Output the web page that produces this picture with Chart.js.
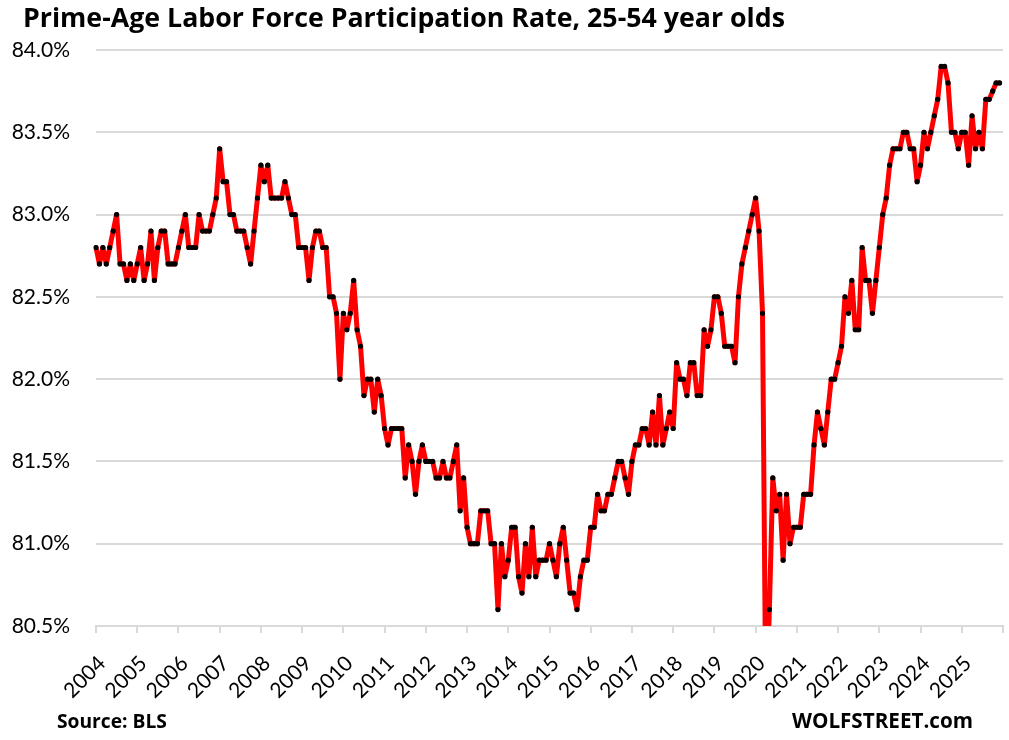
<!DOCTYPE html>
<html><head><meta charset="utf-8">
<script src="https://cdn.jsdelivr.net/npm/chart.js@4.4.0/dist/chart.umd.min.js"></script>
<style>html,body{margin:0;padding:0;background:#fff}#wrap{position:relative;width:1009px;height:740px}</style>
</head><body><div id="wrap"><canvas id="c" width="1009" height="740"></canvas></div>
<script>
// ---- data ----
const years = ['2004','2005','2006','2007','2008','2009','2010','2011','2012','2013','2014',
               '2015','2016','2017','2018','2019','2020','2021','2022','2023','2024','2025'];
const r2004 = [82.8,82.7,82.8,82.7,82.8,82.9,83.0,82.7,82.7,82.6,82.7,82.6];
const r2005 = [82.7,82.8,82.6,82.7,82.9,82.6,82.8,82.9,82.9,82.7,82.7,82.7];
const r2006 = [82.8,82.9,83.0,82.8,82.8,82.8,83.0,82.9,82.9,82.9,83.0,83.1];
const r2007 = [83.4,83.2,83.2,83.0,83.0,82.9,82.9,82.9,82.8,82.7,82.9,83.1];
const r2008 = [83.3,83.2,83.3,83.1,83.1,83.1,83.1,83.2,83.1,83.0,83.0,82.8];
const r2009 = [82.8,82.8,82.6,82.8,82.9,82.9,82.8,82.8,82.5,82.5,82.4,82.0];
const r2010 = [82.4,82.3,82.4,82.6,82.3,82.2,81.9,82.0,82.0,81.8,82.0,81.9];
const r2011 = [81.7,81.6,81.7,81.7,81.7,81.7,81.4,81.6,81.5,81.3,81.5,81.6];
const r2012 = [81.5,81.5,81.5,81.4,81.4,81.5,81.4,81.4,81.5,81.6,81.2,81.4];
const r2013 = [81.1,81.0,81.0,81.0,81.2,81.2,81.2,81.0,81.0,80.6,81.0,80.8];
const r2014 = [80.9,81.1,81.1,80.8,80.7,81.0,80.8,81.1,80.8,80.9,80.9,80.9];
const r2015 = [81.0,80.9,80.8,81.0,81.1,80.9,80.7,80.7,80.6,80.8,80.9,80.9];
const r2016 = [81.1,81.1,81.3,81.2,81.2,81.3,81.3,81.4,81.5,81.5,81.4,81.3];
const r2017 = [81.5,81.6,81.6,81.7,81.7,81.6,81.8,81.6,81.9,81.6,81.7,81.8];
const r2018 = [81.7,82.1,82.0,82.0,81.9,82.1,82.1,81.9,81.9,82.3,82.2,82.3];
const r2019 = [82.5,82.5,82.4,82.2,82.2,82.2,82.1,82.5,82.7,82.8,82.9,83.0];
const r2020 = [83.1,82.9,82.4,79.9,80.6,81.4,81.2,81.3,80.9,81.3,81.0,81.1];
const r2021 = [81.1,81.1,81.3,81.3,81.3,81.6,81.8,81.7,81.6,81.8,82.0,82.0];
const r2022 = [82.1,82.2,82.5,82.4,82.6,82.3,82.3,82.8,82.6,82.6,82.4,82.6];
const r2023 = [82.8,83.0,83.1,83.3,83.4,83.4,83.4,83.5,83.5,83.4,83.4,83.2];
const r2024 = [83.3,83.5,83.4,83.5,83.6,83.7,83.9,83.9,83.8,83.5,83.5,83.4];
const r2025 = [83.5,83.5,83.3,83.6,83.4,83.5,83.4,83.7,83.7,83.75,83.8,83.8];
const yTicks = [80.5,81.0,81.5,82.0,82.5,83.0,83.5,84.0];

const titleText = 'Prime-Age Labor Force Participation Rate, 25-54 year olds';
const sourceText = 'Source: BLS';
const brandText = 'WOLFSTREET.com';

// ---- build ----
const yearly = [r2004,r2005,r2006,r2007,r2008,r2009,r2010,r2011,r2012,r2013,r2014,
                r2015,r2016,r2017,r2018,r2019,r2020,r2021,r2022,r2023,r2024,r2025];
const labels = [];
const values = [];
years.forEach((y, yi) => {
  yearly[yi].forEach((v, m) => { labels.push(y + '-' + String(m + 1).padStart(2, '0')); values.push(v); });
});
labels.push('2026-01'); values.push(null);
const nMonths = values.length - 1;

const FONT = 'Lato, "Open Sans", "DejaVu Sans", sans-serif';
const BOLDFONT = '"Open Sans", Lato, "DejaVu Sans", sans-serif';

function fitText(ctx, text, family, targetW, x, y) {
  ctx.font = 'bold 100px ' + family;
  const w = ctx.measureText(text).width;
  const fs = 100 * targetW / w;
  ctx.font = 'bold ' + fs.toFixed(2) + 'px ' + family;
  ctx.fillText(text, x, y);
}

const textPlugin = {
  id: 'texts',
  afterDraw(chart) {
    const ctx = chart.ctx;
    ctx.save();
    ctx.fillStyle = '#000';
    ctx.textBaseline = 'alphabetic';
    ctx.textAlign = 'left';
    fitText(ctx, titleText, BOLDFONT, 762, 23, 26.5);
    fitText(ctx, sourceText, BOLDFONT, 110, 57, 728);
    fitText(ctx, brandText, BOLDFONT, 181, 792, 728);
    ctx.restore();
  }
};

new Chart(document.getElementById('c'), {
  type: 'line',
  data: {
    labels: labels,
    datasets: [{
      data: values,
      borderColor: '#ff0000',
      borderWidth: 5,
      borderJoinStyle: 'round',
      borderCapStyle: 'round',
      pointRadius: 2.6,
      pointHoverRadius: 2.6,
      pointBackgroundColor: '#000',
      pointBorderWidth: 0,
      tension: 0
    }]
  },
  options: {
    responsive: false,
    animation: false,
    devicePixelRatio: 1,
    events: [],
    layout: { padding: { left: 10, right: 6, top: 50, bottom: 0 } },
    plugins: { legend: { display: false }, tooltip: { enabled: false }, title: { display: false } },
    scales: {
      x: {
        type: 'category',
        afterFit: (s) => { s.paddingLeft = 0; s.paddingRight = 0; s.height = 114; },
        ticks: {
          autoSkip: false, maxRotation: 45, minRotation: 45, color: '#000',
          font: { family: FONT, size: 21 }, padding: 18, labelOffset: 6,
          callback: (v, i) => (i % 12 === 0 && i < nMonths) ? years[i / 12] : ''
        },
        grid: {
          drawOnChartArea: false, drawTicks: true, tickLength: 7, lineWidth: 2,
          color: (c) => (c.index % 12 === 0) ? '#d9d9d9' : 'rgba(0,0,0,0)'
        },
        border: { color: '#d9d9d9', width: 2 }
      },
      y: {
        min: yTicks[0], max: yTicks[yTicks.length - 1],
        afterBuildTicks: (s) => { s.ticks = yTicks.map(v => ({ value: v })); },
        afterFit: (s) => { s.width = 86; },
        ticks: { color: '#000', font: { family: FONT, size: 21 }, padding: 26,
                 callback: (v) => Number(v).toFixed(1) + '%' },
        grid: { color: '#d9d9d9', lineWidth: 2, drawTicks: false },
        border: { display: false }
      }
    }
  },
  plugins: [textPlugin]
});
</script>
</body></html>
